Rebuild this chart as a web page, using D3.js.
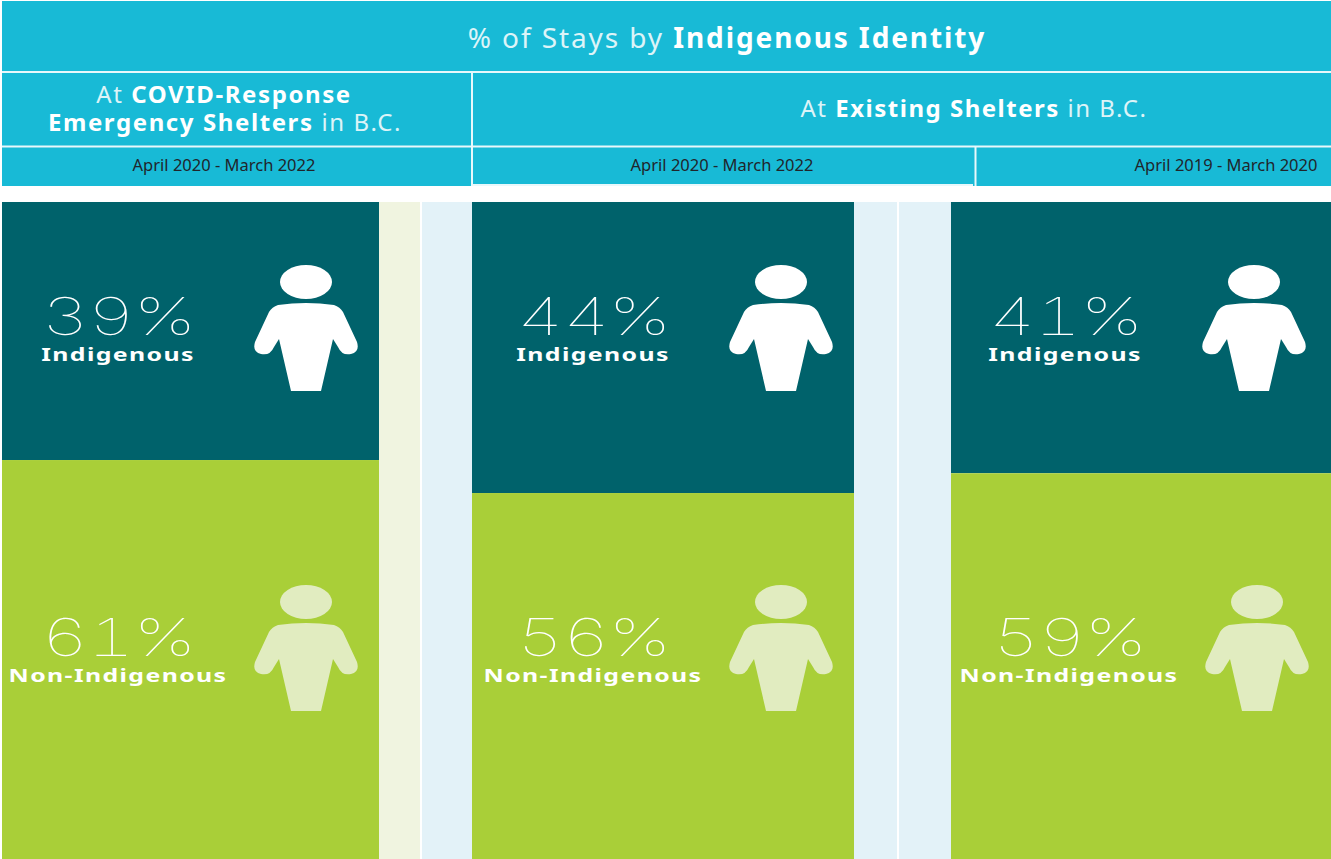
<!DOCTYPE html>
<html>
<head>
<meta charset="utf-8">
<script src="https://cdn.jsdelivr.net/npm/d3@7"></script>
<style>
  html, body { margin: 0; padding: 0; background: #fff; overflow: hidden; }
  svg { display: block; }
</style>
</head>
<body>
<div id="chart"></div>
<script>
// Values
const periods = ["April 2020 - March 2022", "April 2020 - March 2022", "April 2019 - March 2020"];
const indigenous = [39, 44, 41];
const nonIndigenous = [61, 56, 59];
const groupLabels = ["Indigenous", "Non-Indigenous"];

const W = 1331, H = 859;
const cyan = "#18bad6", teal = "#00626b", lime = "#a9cf38";

// Column placement
const barLeft = [2, 472, 951];
const barWidth = [377, 382, 380];
const textCx = [118, 593, 1065];
const textCxLow = [118, 593, 1069];
const iconCx = [306, 781, 1254];
const iconCxLow = [306, 781, 1257];

const svg = d3.select("#chart").append("svg")
    .attr("width", W)
    .attr("height", H)
    .style("font-family", "'Noto Sans', sans-serif");

// Header block
const header = svg.append("g");
header.append("rect").attr("x", 2).attr("y", 1).attr("width", W - 2).attr("height", 185).attr("fill", cyan);

const whiteLines = [
    [2, 72, W, 72], [2, 146.5, W, 146.5],
    [472, 72, 472, 186], [975.5, 147, 975.5, 186], [473, 185, 973, 185]
];
header.selectAll("line").data(whiteLines).join("line")
    .attr("x1", d => d[0]).attr("y1", d => d[1])
    .attr("x2", d => d[2]).attr("y2", d => d[3])
    .attr("stroke", "#e8f8fb")
    .attr("stroke-width", 2);

function headerText(x, y, size, spacing, parts) {
    const t = header.append("text")
        .attr("x", x).attr("y", y)
        .attr("text-anchor", "middle")
        .attr("fill", "#fff")
        .style("font-size", size + "px")
        .style("letter-spacing", spacing + "px");
    parts.forEach(p => {
        t.append("tspan")
            .attr("font-weight", p[1] ? 700 : 400)
            .attr("opacity", p[1] ? 1 : 0.85)
            .text(p[0]);
    });
}
headerText(727, 48, 28, 1.9, [["% of Stays by ", false], ["Indigenous Identity", true]]);
headerText(224, 103, 24, 1.6, [["At ", false], ["COVID-Response", true]]);
headerText(225, 131, 24, 1.6, [["Emergency Shelters", true], [" in B.C.", false]]);
headerText(974, 117, 24, 1.5, [["At ", false], ["Existing Shelters", true], [" in B.C.", false]]);

const periodX = [224, 722, 1226];
header.selectAll("text.period").data(periods).join("text")
    .attr("class", "period")
    .attr("x", (d, i) => periodX[i])
    .attr("y", 171)
    .attr("text-anchor", "middle")
    .attr("fill", "#20252b")
    .style("font-size", "16.5px")
    .text(d => d);

// Pale gutters between the columns
const gutters = [
    [379, 41, "#f0f4e0"], [422, 50, "#e3f2f8"],
    [854, 43, "#e3f2f8"], [899, 52, "#e3f2f8"]
];
svg.selectAll("rect.gutter").data(gutters).join("rect")
    .attr("class", "gutter")
    .attr("x", d => d[0]).attr("y", 202)
    .attr("width", d => d[1]).attr("height", H - 202)
    .attr("fill", d => d[2]);

// Stacked bars, the scale runs a bit past the page bottom like the original
const y = d3.scaleLinear().domain([-0.1, 100]).range([202, 862.6]);

const columns = svg.selectAll("g.column").data(indigenous).join("g").attr("class", "column");
columns.append("rect")
    .attr("x", (d, i) => barLeft[i]).attr("y", y(-0.1))
    .attr("width", (d, i) => barWidth[i])
    .attr("height", d => y(d) - y(-0.1))
    .attr("fill", teal);
columns.append("rect")
    .attr("x", (d, i) => barLeft[i]).attr("y", d => y(d))
    .attr("width", (d, i) => barWidth[i])
    .attr("height", (d, i) => y(d + nonIndigenous[i]) - y(d))
    .attr("fill", lime);

// Person icon, drawn around its own centre
const personBody = "M-28,23 Q0,19 28,23 Q34,25 37,30 L51,60 Q54,70 45,72 Q36,74 32,65 L27,57 L15,109 L-15,109 L-27,57 L-32,65 Q-36,74 -45,72 Q-54,70 -51,60 L-37,30 Q-34,25 -28,23 Z";

function person(cx, cy, fill) {
    const g = svg.append("g").attr("transform", `translate(${cx},${cy})`).attr("fill", fill);
    g.append("ellipse").attr("cx", 0).attr("cy", 0).attr("rx", 26).attr("ry", 17);
    g.append("path").attr("d", personBody);
}

// The big numbers and labels are wide faces in the original, so stretch them sideways
function pctText(x, yPos, value) {
    svg.append("text")
        .attr("transform", `translate(${x},${yPos}) scale(1.42,1)`)
        .attr("text-anchor", "middle")
        .attr("fill", "#fff")
        .attr("font-weight", 100)
        .style("font-family", "Inter, Lato, sans-serif")
        .style("font-size", "52px")
        .style("font-variant-numeric", "tabular-nums")
        .style("letter-spacing", "-1px")
        .text(value + "%");
}

function groupText(x, yPos, label) {
    svg.append("text")
        .attr("transform", `translate(${x},${yPos}) scale(1.38,1)`)
        .attr("text-anchor", "middle")
        .attr("fill", "#fff")
        .attr("font-weight", 700)
        .style("font-size", "18px")
        .style("letter-spacing", "1px")
        .text(label);
}

indigenous.forEach((v, i) => {
    person(iconCx[i], 282, "#fff");
    pctText(textCx[i], 335, v);
    groupText(textCx[i], 361, groupLabels[0]);
});
nonIndigenous.forEach((v, i) => {
    person(iconCxLow[i], 602, "#e1ecc0");
    pctText(textCxLow[i], 656, v);
    groupText(textCxLow[i], 682, groupLabels[1]);
});
</script>
</body>
</html>
